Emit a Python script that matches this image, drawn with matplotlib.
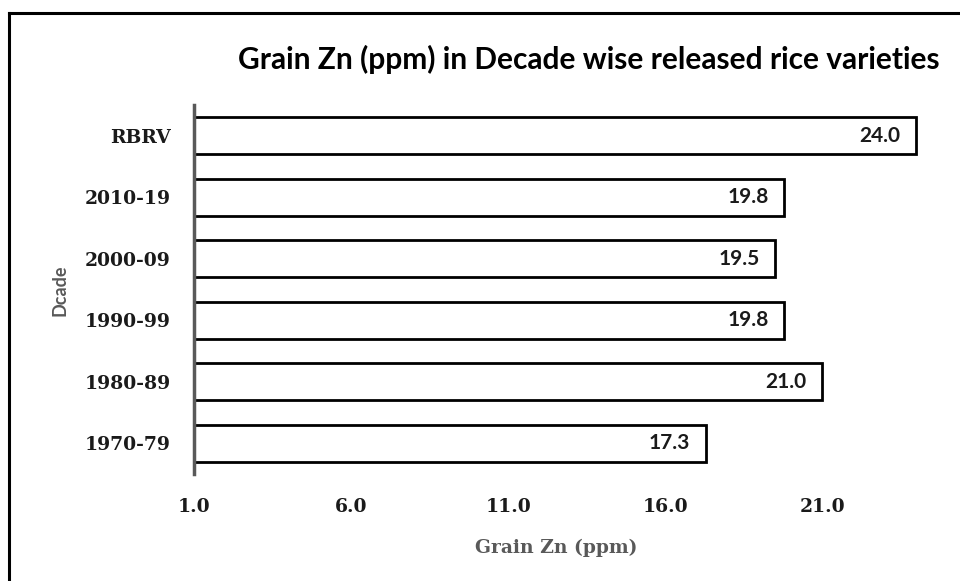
import matplotlib.pyplot as plt
from matplotlib.lines import Line2D

# ── data ─────────────────────────────────────────────
decades = ["1970-79", "1980-89", "1990-99", "2000-09", "2010-19", "RBRV"]
grain_zn = [17.3, 21.0, 19.8, 19.5, 19.8, 24.0]
x_ticks = [1.0, 6.0, 11.0, 16.0, 21.0]
BASE = 1.0

SERIF = "DejaVu Serif"

fig = plt.figure(figsize=(9.6, 5.81), dpi=100)
ax = fig.add_axes([0.2026, 0.1842, 0.7845, 0.635])

widths = [v - BASE for v in grain_zn]
bars = ax.barh(decades, widths, left=BASE, height=0.6,
               color="white", edgecolor="black", linewidth=2)

for b, v in zip(bars, grain_zn):
    ax.text(b.get_x() + b.get_width() - 0.5, b.get_y() + b.get_height() / 2,
            f"{v:.1f}", ha="right", va="center",
            fontsize=15, fontweight="bold", family="Lato", color="#1a1a1a")

ax.set_xlim(1, 25)
ax.set_ylim(-0.5, 5.5)
ax.set_xticks(x_ticks)
ax.set_xticklabels([f"{t:.1f}" for t in x_ticks])

for s in ["top", "right", "bottom"]:
    ax.spines[s].set_visible(False)
ax.spines["left"].set_color("#595959")
ax.spines["left"].set_linewidth(2.5)
ax.tick_params(axis="both", length=0)
ax.tick_params(axis="y", pad=17)
ax.tick_params(axis="x", pad=17)
for lab in ax.get_yticklabels() + ax.get_xticklabels():
    lab.set_family(SERIF)
    lab.set_fontweight("bold")
    lab.set_fontsize(13.5)
    lab.set_color("#1a1a1a")

ax.set_xlabel("Grain Zn (ppm)", family=SERIF, fontweight="bold",
              fontsize=13.5, color="#595959")
ax.xaxis.set_label_coords(0.48, -0.176)
fig.text(0.063, 0.5, "Dcade", rotation=90, ha="center", va="center",
         family="Lato", fontweight="bold", fontsize=13, color="#595959")

fig.text(0.613, 0.898, "Grain Zn (ppm) in Decade wise released rice varieties",
         ha="center", va="center", family="Lato", fontweight="bold",
         fontsize=21.5, color="black")

# outer border (top and left edges visible; right/bottom run off the image)
fig.add_artist(Line2D([0.009, 1.0], [0.978, 0.978], transform=fig.transFigure,
                      color="black", linewidth=2.2))
fig.add_artist(Line2D([0.009, 0.009], [0.0, 0.978], transform=fig.transFigure,
                      color="black", linewidth=2.2))

plt.savefig("out.png", dpi=100)
